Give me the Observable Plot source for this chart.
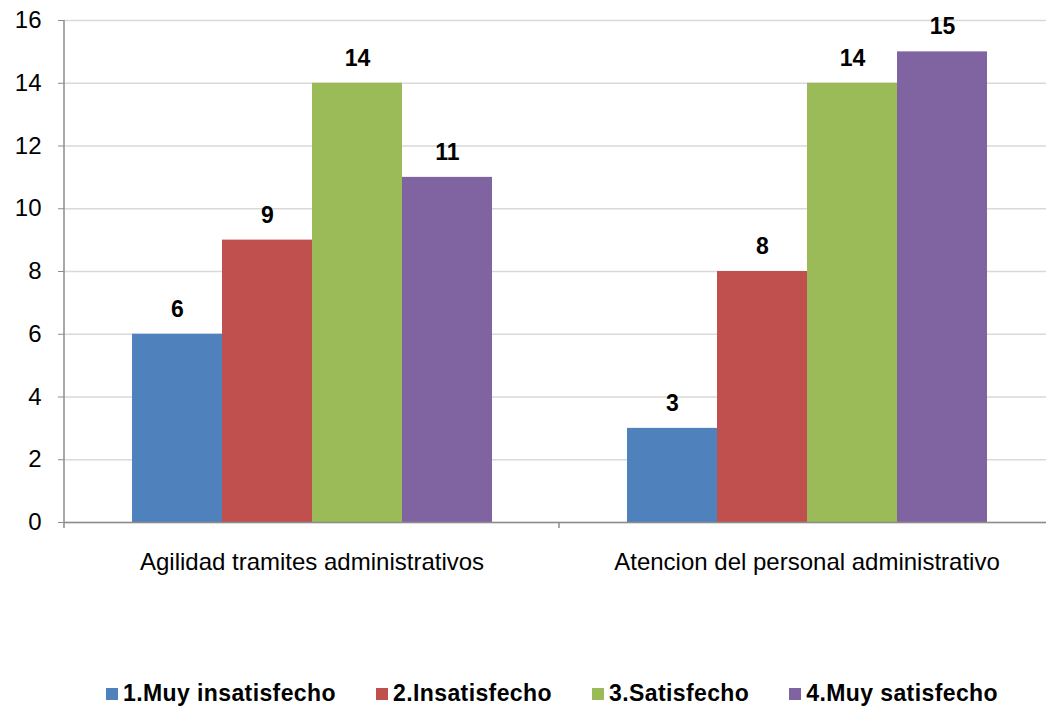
<!DOCTYPE html>
<html>
<head>
<meta charset="utf-8">
<script src="https://cdn.jsdelivr.net/npm/d3@7"></script>
<script src="https://cdn.jsdelivr.net/npm/@observablehq/plot@0.6"></script>
<style>
  html, body { margin: 0; padding: 0; background: #fff; overflow: hidden; }
  body { width: 1046px; height: 711px; font-family: "Liberation Sans", Arial, sans-serif; }
  #legend { display: flex; justify-content: center; gap: 40px; margin-top: 80px; padding-left: 58px; font-weight: bold; font-size: 23px; letter-spacing: 0.4px; color: #000; width: 1046px; box-sizing: border-box; }
  #legend .item { display: flex; align-items: center; gap: 5px; }
  #legend .sw { width: 12px; height: 12px; display: inline-block; }
  #chart { width: 1046px; overflow: hidden; }
  #chart svg { display: block; max-width: none !important; }
</style>
</head>
<body>
<div id="chart"></div>
<div id="legend"></div>
<script>
const categories = ["Agilidad tramites administrativos", "Atencion del personal administrativo"];
const series = ["1.Muy insatisfecho", "2.Insatisfecho", "3.Satisfecho", "4.Muy satisfecho"];
const colors = ["#4F81BD", "#C0504D", "#9BBB59", "#8064A2"];
const agilidadValues = [6, 9, 14, 11];
const atencionValues = [3, 8, 14, 15];
const yTicks = [0, 2, 4, 6, 8, 10, 12, 14, 16];

const data = [];
series.forEach((s, i) => {
  data.push({category: categories[0], series: s, value: agilidadValues[i]});
  data.push({category: categories[1], series: s, value: atencionValues[i]});
});

const chart = Plot.plot({
  width: 1054,
  height: 600,
  marginLeft: 64,
  marginRight: 0,
  marginTop: 20,
  marginBottom: 78,
  style: {fontFamily: "'Liberation Sans', Arial, sans-serif", background: "#fff", overflow: "visible"},
  fx: {domain: categories, padding: 0, label: null},
  x: {domain: series, paddingInner: 0, paddingOuter: 0.75, axis: null},
  y: {domain: [0, 16], ticks: yTicks, label: null},
  color: {domain: series, range: colors},
  marks: [
    Plot.gridY(yTicks, {stroke: "#d9d9d9", strokeOpacity: 1, strokeWidth: 1.5}),
    Plot.barY(data, {fx: "category", x: "series", y: "value", fill: "series", inset: 0}),
    Plot.text(data, {fx: "category", x: "series", y: "value", text: "value", dy: -25, fontWeight: "bold", fontSize: 23, fill: "#000"}),
    Plot.ruleY([0], {stroke: "#8c8c8c", strokeWidth: 1.5}),
    Plot.axisY(yTicks, {tickSize: 6, tickPadding: 17, fontSize: 24, stroke: "#8c8c8c", fill: "#000", label: null}),
    Plot.axisFx({anchor: "bottom", tickSize: 0, tickPadding: 30, fontSize: 24, fill: "#000", label: null})
  ]
});
document.getElementById("chart").appendChild(chart);

// y-axis line and category boundary ticks (Excel style), via the chart's scales
const svg = d3.select(chart);
const fx = chart.scale("fx");
const y = chart.scale("y");
const y0 = y.apply(0), yTop = y.apply(16);
const left0 = fx.apply(categories[0]);
svg.append("line").attr("x1", left0).attr("x2", left0).attr("y1", yTop).attr("y2", y0 + 6)
  .attr("stroke", "#8c8c8c").attr("stroke-width", 1.5);
categories.forEach(c => {
  const xb = fx.apply(c) + fx.bandwidth;
  svg.append("line").attr("x1", xb).attr("x2", xb).attr("y1", y0).attr("y2", y0 + 6)
    .attr("stroke", "#8c8c8c").attr("stroke-width", 1.5);
});

const legend = document.getElementById("legend");
series.forEach((s, i) => {
  const it = document.createElement("div");
  it.className = "item";
  it.innerHTML = `<span class="sw" style="background:${colors[i]}"></span><span>${s}</span>`;
  legend.appendChild(it);
});
</script>
</body>
</html>
